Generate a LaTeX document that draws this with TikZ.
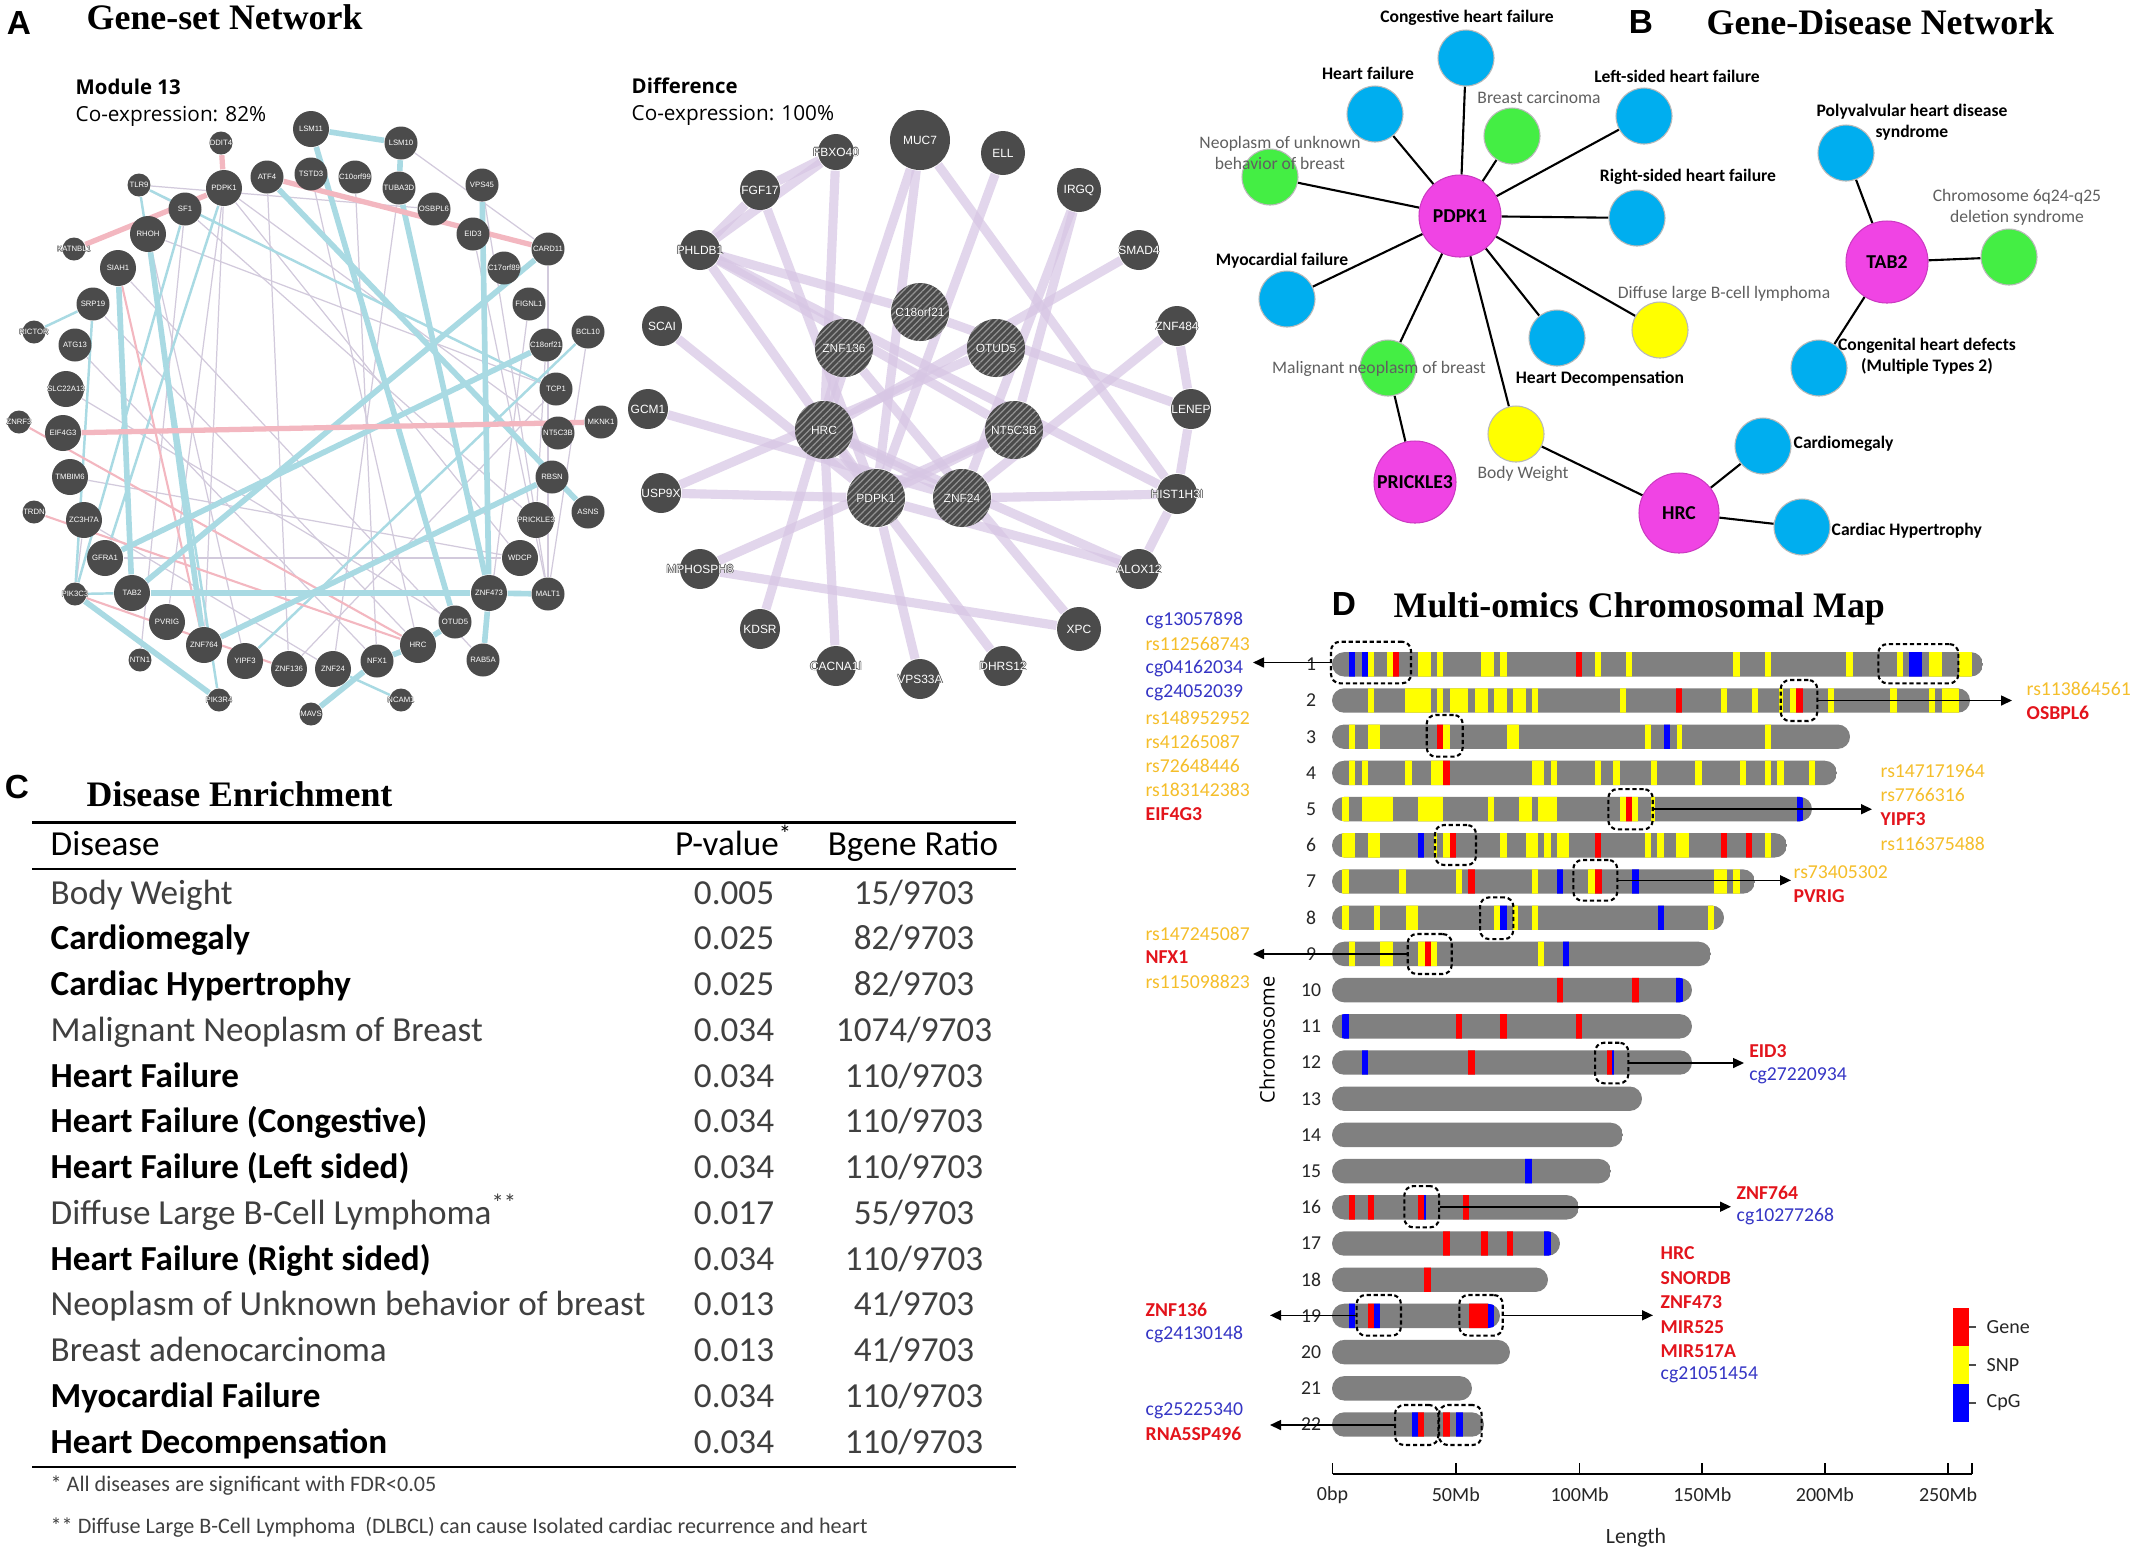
\documentclass[tikz,border=0pt]{standalone}
\usepackage{fontspec}
\setmainfont{Carlito}
\newfontfamily\labfont{Liberation Sans}
\newfontfamily\titlefont{Liberation Serif}
\newfontfamily\uifont{Open Sans}
\usetikzlibrary{positioning,arrows.meta,backgrounds,patterns.meta}

\definecolor{netgray}{HTML}{4B4B4B}
\definecolor{edgeblue}{HTML}{A9DAE3}
\definecolor{edgepink}{HTML}{F3B7C0}
\definecolor{edgethin}{HTML}{D2CADC}
\definecolor{edgepurple}{HTML}{D7C6E4}
\definecolor{genemag}{HTML}{F044E4}
\definecolor{disblue}{HTML}{00AEEF}
\definecolor{disgreen}{HTML}{44EE44}
\definecolor{disyellow}{HTML}{FFFF00}
\definecolor{labgray}{HTML}{606060}
\definecolor{tabgray}{HTML}{404040}
\definecolor{chrgray}{HTML}{808080}
\definecolor{bandY}{HTML}{FFFF00}
\definecolor{bandR}{HTML}{FF0000}
\definecolor{bandB}{HTML}{0000FF}
\definecolor{bandG}{HTML}{808080}
\definecolor{snptext}{HTML}{F5BE2A}
\definecolor{cpgtext}{HTML}{3535C5}
\definecolor{genered}{HTML}{E3141C}

% white gene label with a dark rim, so it stays readable outside its disc
\newcommand\halo[1]{\rlap{\color{netgray}\kern-0.055em#1}\rlap{\color{netgray}\kern0.055em#1}%
  \rlap{\color{netgray}\raise0.055em\hbox{#1}}\rlap{\color{netgray}\lower0.055em\hbox{#1}}#1}

\tikzset{
  panel/.style   = {inner sep=0pt, font=\labfont\bfseries\fontsize{9.5}{11}\selectfont},
  ptitle/.style  = {inner sep=0pt, anchor=base west, font=\titlefont\bfseries\fontsize{10.2}{12}\selectfont},
  uitext/.style  = {inner sep=0pt, anchor=west, font=\uifont\fontsize{5.9}{7}\selectfont},
  uibold/.style  = {uitext, font=\uifont\bfseries\fontsize{5.8}{7}\selectfont},
  zerowidth/.style = {execute at begin node={\hbox to 0pt\bgroup\hss},
                      execute at end node={\hss\egroup}},
  mnode/.style   = {circle, fill=netgray, text=white, inner sep=0pt, zerowidth,
                    font=\labfont\fontsize{2.2}{2.4}\selectfont},
  mbig/.style    = {mnode, minimum size=3.6mm},
  mmid/.style    = {mnode, minimum size=3.3mm},
  msml/.style    = {mnode, minimum size=2.3mm},
  eblue/.style   = {draw=edgeblue, line width=1.6pt},
  ebluet/.style  = {draw=edgeblue, line width=0.7pt},
  epink/.style   = {draw=edgepink, line width=1.5pt},
  epinkt/.style  = {draw=edgepink, line width=0.6pt},
  ethin/.style   = {draw=edgethin, line width=0.35pt},
  dnode/.style   = {circle, fill=netgray, text=white, inner sep=0pt, minimum size=4mm, zerowidth,
                    font=\labfont\fontsize{3.4}{4}\selectfont},
  dhub/.style    = {dnode, minimum size=5.8mm,
                    postaction={pattern={Lines[angle=45,distance=1.3pt,line width=0.35pt]},
                                pattern color=gray!85}},
  dedge/.style   = {draw=edgepurple, line width=2.6pt, opacity=0.7},
  gene/.style    = {circle, fill=genemag, draw=genemag!85!black, line width=0.3pt, inner sep=0pt,
                    minimum size=8.2mm, font=\bfseries\fontsize{5.6}{6}\selectfont},
  dis/.style     = {circle, draw=gray!55, line width=0.3pt, minimum size=5.6mm, inner sep=0pt},
  gedge/.style   = {draw=black, line width=0.6pt},
  dislab/.style  = {inner sep=0pt, align=center, font=\bfseries\fontsize{5}{6}\selectfont},
  dislabg/.style = {inner sep=0pt, align=center, text=labgray, font=\fontsize{5}{6}\selectfont},
  trow/.style    = {anchor=mid west, inner sep=0pt, font=\fontsize{10}{12}\selectfont},
  rowlight/.style= {trow, text=tabgray},
  rowbold/.style = {trow, font=\bfseries\fontsize{10}{12}\selectfont},
  tnum/.style    = {anchor=mid, inner sep=0pt, text=tabgray, font=\fontsize{10}{12}\selectfont},
  thead/.style   = {anchor=mid, inner sep=0pt, font=\fontsize{10}{12}\selectfont},
  tnote/.style   = {anchor=mid west, inner sep=0pt, text=tabgray, font=\fontsize{6.3}{7}\selectfont},
  chrnum/.style  = {inner sep=0pt, text=black!85, font=\fontsize{5.6}{6}\selectfont},
  dbox/.style    = {draw=black, line width=0.6pt, dash pattern=on 1.2pt off 0.8pt,
                    rounded corners=0.9mm, inner sep=0pt},
  omarrow/.style = {-{Triangle[length=1.1mm,width=1mm]}, line width=0.45pt},
  snplab/.style  = {anchor=west, inner sep=0pt, text=snptext, font=\fontsize{5.6}{6}\selectfont},
  cpglab/.style  = {anchor=west, inner sep=0pt, text=cpgtext, font=\fontsize{5.6}{6}\selectfont},
  genelab/.style = {anchor=west, inner sep=0pt, text=genered, font=\bfseries\fontsize{5.6}{6}\selectfont},
  axlab/.style   = {inner sep=0pt, text=black!85, font=\fontsize{5.7}{6}\selectfont}
}

\begin{document}
\begin{tikzpicture}[x=0.1mm, y=-0.1mm]
  \useasboundingbox (0,0) rectangle (2136,1556);
  \begin{scope}[on background layer]
    \fill[white] (0,0) rectangle (2136,1556);
  \end{scope}

  % ---------------- A: gene-set network
  \node[panel] (lettA) at (19,23) {A};
  \node[ptitle] (titleA) at (86,29.5) {Gene-set Network};
  \node[uibold] (modname) at (75,87) {Module 13};
  \node[uitext] (modco) at (75,116) {Co-expression: 82\%};
  \node[uibold] (difname) at (631,86) {Difference};
  \node[uitext] (difco) at (631,115) {Co-expression: 100\%};

  \node[mbig] (mLSM11) at (311,129) {\halo{LSM11}};
  \node[mmid] (mLSM10) at (401,143) {\halo{LSM10}};
  \node[msml] (mDDIT4) at (221,143) {\halo{DDIT4}};
  \node[msml] (mTLR9) at (139,185) {\halo{TLR9}};
  \node[mbig] (mPDPK1) at (224,188) {\halo{PDPK1}};
  \node[mmid] (mATF4) at (267,177) {\halo{ATF4}};
  \node[mmid] (mTSTD3) at (311,174) {\halo{TSTD3}};
  \node[mmid] (mC10orf99) at (355,177) {\halo{C10orf99}};
  \node[mmid] (mTUBA3D) at (399,188) {\halo{TUBA3D}};
  \node[mmid] (mVPS45) at (482,185) {\halo{VPS45}};
  \node[mmid] (mSF1) at (185,209) {\halo{SF1}};
  \node[mmid] (mOSBPL6) at (434,209) {\halo{OSBPL6}};
  \node[mbig] (mRHOH) at (148,234) {\halo{RHOH}};
  \node[mmid] (mEID3) at (473,234) {\halo{EID3}};
  \node[msml] (mKATNBL1) at (74,249) {\halo{KATNBL1}};
  \node[mmid] (mCARD11) at (548,249) {\halo{CARD11}};
  \node[mbig] (mSIAH1) at (118,268) {\halo{SIAH1}};
  \node[mmid] (mC17orf89) at (504,268) {\halo{C17orf89}};
  \node[mmid] (mSRP19) at (93,304) {\halo{SRP19}};
  \node[mmid] (mFIGNL1) at (529,304) {\halo{FIGNL1}};
  \node[msml] (mRICTOR) at (34,332) {\halo{RICTOR}};
  \node[mmid] (mBCL10) at (588,332) {\halo{BCL10}};
  \node[mmid] (mATG13) at (75,345) {\halo{ATG13}};
  \node[mmid] (mC18orf21) at (546,345) {\halo{C18orf21}};
  \node[mbig] (mSLC22A13) at (66,389) {\halo{SLC22A13}};
  \node[mmid] (mTCP1) at (556,389) {\halo{TCP1}};
  \node[msml] (mZNRF3) at (19,422) {\halo{ZNRF3}};
  \node[mbig] (mEIF4G3) at (63,433) {\halo{EIF4G3}};
  \node[mmid] (mMKNK1) at (601,422) {\halo{MKNK1}};
  \node[mmid] (mNT5C3B) at (558,433) {\halo{NT5C3B}};
  \node[mbig] (mTMBIM6) at (70,477) {\halo{TMBIM6}};
  \node[mmid] (mRBSN) at (552,477) {\halo{RBSN}};
  \node[msml] (mTRDN) at (34,512) {\halo{TRDN}};
  \node[mbig] (mZC3H7A) at (84,520) {\halo{ZC3H7A}};
  \node[mbig] (mPRICKLE3) at (536,520) {\halo{PRICKLE3}};
  \node[mmid] (mASNS) at (588,512) {\halo{ASNS}};
  \node[mbig] (mGFRA1) at (105,558) {\halo{GFRA1}};
  \node[mbig] (mWDCP) at (520,558) {\halo{WDCP}};
  \node[msml] (mPIK3C3) at (75,594) {\halo{PIK3C3}};
  \node[mbig] (mTAB2) at (132,593) {\halo{TAB2}};
  \node[mbig] (mZNF473) at (489,593) {\halo{ZNF473}};
  \node[mmid] (mMALT1) at (548,594) {\halo{MALT1}};
  \node[mbig] (mPVRIG) at (167,622) {\halo{PVRIG}};
  \node[mmid] (mOTUD5) at (455,622) {\halo{OTUD5}};
  \node[mbig] (mZNF764) at (204,645) {\halo{ZNF764}};
  \node[mbig] (mHRC) at (418,645) {\halo{HRC}};
  \node[msml] (mNTN1) at (140,660) {\halo{NTN1}};
  \node[mbig] (mYIPF3) at (245,661) {\halo{YIPF3}};
  \node[mbig] (mZNF136) at (289,669) {\halo{ZNF136}};
  \node[mbig] (mZNF24) at (333,669) {\halo{ZNF24}};
  \node[mmid] (mNFX1) at (377,661) {\halo{NFX1}};
  \node[mmid] (mRAB5A) at (483,660) {\halo{RAB5A}};
  \node[msml] (mPIK3R4) at (219,700) {\halo{PIK3R4}};
  \node[msml] (mNCAM1) at (401,700) {\halo{NCAM1}};
  \node[msml] (mMAVS) at (311,714) {\halo{MAVS}};

  \begin{scope}[on background layer]
    \path (mPDPK1) edge[ethin] (mWDCP)   (mPDPK1) edge[ethin] (mZNF764)
          (mTLR9) edge[ethin] (mOSBPL6)  (mATF4) edge[ethin] (mZNF136)
          (mRHOH) edge[ethin] (mTCP1)    (mSIAH1) edge[ethin] (mRAB5A)
          (mSF1) edge[ethin] (mPRICKLE3) (mC10orf99) edge[ethin] (mNFX1)
          (mEID3) edge[ethin] (mMALT1)   (mCARD11) edge[ethin] (mMALT1)
          (mBCL10) edge[ethin] (mMALT1)  (mFIGNL1) edge[ethin] (mRAB5A)
          (mTMBIM6) edge[ethin] (mWDCP)  (mZC3H7A) edge[ethin] (mZNF24)
          (mSLC22A13) edge[ethin] (mOTUD5) (mATG13) edge[ethin] (mNFX1)
          (mVPS45) edge[ethin] (mMALT1)  (mTSTD3) edge[ethin] (mHRC)
          (mPDPK1) edge[ethin] (mNT5C3B) (mRHOH) edge[ethin] (mYIPF3)
          (mGFRA1) edge[ethin] (mWDCP)   (mZC3H7A) edge[ethin] (mPIK3C3)
          (mC18orf21) edge[ethin] (mPRICKLE3) (mTUBA3D) edge[ethin] (mZNF24)
          (mSRP19) edge[ethin] (mHRC)    (mTCP1) edge[ethin] (mZNF136)
          (mLSM10) edge[ethin] (mCARD11) (mPDPK1) edge[ethin] (mPVRIG)
          (mTLR9) edge[ethin] (mSF1)     (mSF1) edge[ethin] (mNTN1);
    \path (mSRP19) edge[ebluet] (mRICTOR) (mTLR9) edge[ebluet] (mPIK3R4)
          (mPDPK1) edge[ebluet] (mGFRA1)  (mSRP19) edge[ebluet] (mPIK3C3)
          (mYIPF3) edge[ebluet] (mBCL10)  (mZNF24) edge[ebluet] (mNCAM1)
          (mSF1) edge[ebluet] (mPIK3C3)   (mPIK3C3) edge[ebluet] (mTAB2)
          (mTLR9) edge[ebluet] (mTCP1);
    \path (mZNRF3) edge[epinkt] (mHRC)   (mTRDN) edge[epinkt] (mHRC)
          (mPIK3C3) edge[epinkt] (mZNF136) (mSIAH1) edge[epinkt] (mZNF764);
    \path (mLSM11) edge[eblue] (mLSM10)  (mLSM10) edge[eblue] (mTUBA3D)
          (mTUBA3D) edge[eblue] (mZNF473) (mVPS45) edge[eblue] (mZNF473)
          (mZNF473) edge[eblue] (mRAB5A) (mATF4) edge[eblue] (mASNS)
          (mLSM11) edge[eblue] (mOTUD5)  (mSIAH1) edge[eblue] (mTAB2)
          (mRHOH) edge[eblue] (mZNF764)  (mTAB2) edge[eblue] (mZNF473)
          (mTAB2) edge[eblue] (mCARD11)  (mZNF764) edge[eblue] (mRBSN)
          (mGFRA1) edge[eblue] (mC18orf21) (mPIK3C3) edge[eblue] (mPIK3R4)
          (mNFX1) edge[eblue] (mHRC)     (mHRC) edge[eblue] (mOTUD5)
          (mMAVS) edge[eblue] (mNFX1)    (mZNF473) edge[eblue] (mMALT1);
    \path (mEIF4G3) edge[epink] (mMKNK1) (mATF4) edge[epink] (mCARD11)
          (mKATNBL1) edge[epink] (mPDPK1) (mDDIT4) edge[epink] (mPDPK1);
  \end{scope}

  % difference network
  \node[dnode, minimum size=6mm] (dMUC7) at (920,140) {\halo{MUC7}};
  \node[dnode, minimum size=3.6mm] (dFBXO40) at (836,152) {\halo{FBXO40}};
  \node[dnode, minimum size=4.4mm] (dELL) at (1003,153) {\halo{ELL}};
  \node[dnode] (dFGF17) at (760,190) {\halo{FGF17}};
  \node[dnode, minimum size=4.4mm] (dIRGQ) at (1079,190) {\halo{IRGQ}};
  \node[dnode] (dPHLDB1) at (700,250) {\halo{PHLDB1}};
  \node[dnode] (dSMAD4) at (1139,250) {\halo{SMAD4}};
  \node[dnode] (dSCAI) at (662,326) {\halo{SCAI}};
  \node[dnode] (dZNF484) at (1177,326) {\halo{ZNF484}};
  \node[dnode] (dGCM1) at (648,409) {\halo{GCM1}};
  \node[dnode] (dLENEP) at (1191,409) {\halo{LENEP}};
  \node[dnode] (dUSP9X) at (661,493) {\halo{USP9X}};
  \node[dnode] (dHIST1H3I) at (1177,494) {\halo{HIST1H3I}};
  \node[dnode] (dMPHOSPH8) at (700,569) {\halo{MPHOSPH8}};
  \node[dnode] (dALOX12) at (1139,569) {\halo{ALOX12}};
  \node[dnode] (dKDSR) at (760,629) {\halo{KDSR}};
  \node[dnode, minimum size=4.4mm] (dXPC) at (1079,629) {\halo{XPC}};
  \node[dnode] (dCACNA1I) at (836,666) {\halo{CACNA1I}};
  \node[dnode] (dDHRS12) at (1003,666) {\halo{DHRS12}};
  \node[dnode] (dVPS33A) at (920,679) {\halo{VPS33A}};
  \node[dhub] (dC18orf21) at (920,312) {\halo{C18orf21}};
  \node[dhub] (dZNF136) at (844,348) {\halo{ZNF136}};
  \node[dhub] (dOTUD5) at (996,348) {\halo{OTUD5}};
  \node[dhub] (dHRC) at (824,430) {\halo{HRC}};
  \node[dhub] (dNT5C3B) at (1014,430) {\halo{NT5C3B}};
  \node[dhub] (dPDPK1) at (876,498) {\halo{PDPK1}};
  \node[dhub] (dZNF24) at (962,498) {\halo{ZNF24}};

  \begin{scope}[on background layer]
    \path[dedge] (dFBXO40) edge (dFGF17) (dFBXO40) edge (dPHLDB1) (dFBXO40) edge (dHRC)
          (dFGF17) edge (dPHLDB1) (dFGF17) edge (dPDPK1) (dMUC7) edge (dHRC)
          (dMUC7) edge (dHIST1H3I) (dMUC7) edge (dPDPK1) (dELL) edge (dPDPK1)
          (dIRGQ) edge (dZNF24) (dIRGQ) edge (dNT5C3B) (dSMAD4) edge (dHRC)
          (dPHLDB1) edge (dC18orf21) (dPHLDB1) edge (dHIST1H3I) (dPHLDB1) edge (dNT5C3B)
          (dPHLDB1) edge (dPDPK1) (dSCAI) edge (dPDPK1) (dZNF484) edge (dLENEP)
          (dZNF484) edge (dZNF24) (dLENEP) edge (dHIST1H3I) (dLENEP) edge (dC18orf21)
          (dGCM1) edge (dZNF24) (dUSP9X) edge (dPDPK1) (dUSP9X) edge (dOTUD5)
          (dHIST1H3I) edge (dZNF24) (dHIST1H3I) edge (dALOX12) (dMPHOSPH8) edge (dXPC)
          (dMPHOSPH8) edge (dNT5C3B) (dALOX12) edge (dHRC) (dALOX12) edge (dPDPK1)
          (dKDSR) edge (dZNF136) (dXPC) edge (dZNF136) (dCACNA1I) edge (dHRC)
          (dDHRS12) edge (dHRC) (dVPS33A) edge (dPDPK1) (dHRC) edge (dZNF24)
          (dPDPK1) edge (dNT5C3B);
  \end{scope}

  % ---------------- B: gene-disease network
  \node[panel] (lettB) at (1641,22) {B};
  \node[ptitle] (titleB) at (1706,34) {Gene-Disease Network};

  \node[gene] (gPDPK1) at (1460,216) {PDPK1};
  \node[gene] (gPRICKLE3) at (1415,482) {PRICKLE3};
  \node[gene, minimum size=8mm] (gHRC) at (1679,513) {HRC};
  \node[gene] (gTAB2) at (1887,262) {TAB2};
  \node[dis, fill=disblue] (gCHF) at (1466,58) {};
  \node[dis, fill=disblue] (gHF) at (1375,114) {};
  \node[dis, fill=disgreen] (gBC) at (1512,136) {};
  \node[dis, fill=disblue] (gLHF) at (1644,116) {};
  \node[dis, fill=disgreen] (gNUB) at (1270,177) {};
  \node[dis, fill=disblue] (gRHF) at (1637,218) {};
  \node[dis, fill=disblue] (gMF) at (1287,299) {};
  \node[dis, fill=disyellow] (gDLB) at (1660,330) {};
  \node[dis, fill=disblue] (gHD) at (1557,338) {};
  \node[dis, fill=disgreen] (gMNB) at (1388,368) {};
  \node[dis, fill=disyellow] (gBW) at (1516,434) {};
  \node[dis, fill=disblue] (gCM) at (1763,446) {};
  \node[dis, fill=disblue] (gCH) at (1802,527) {};
  \node[dis, fill=disblue] (gPHD) at (1846,153) {};
  \node[dis, fill=disgreen] (gCHR) at (2009,257) {};
  \node[dis, fill=disblue] (gCHD) at (1819,368) {};

  \begin{scope}[on background layer]
    \path[gedge] (gPDPK1) edge (gCHF) (gPDPK1) edge (gHF) (gPDPK1) edge (gBC)
          (gPDPK1) edge (gLHF) (gPDPK1) edge (gNUB) (gPDPK1) edge (gRHF)
          (gPDPK1) edge (gMF) (gPDPK1) edge (gDLB) (gPDPK1) edge (gHD)
          (gPDPK1) edge (gMNB) (gPDPK1) edge (gBW) (gMNB) edge (gPRICKLE3)
          (gBW) edge (gHRC) (gHRC) edge (gCM) (gHRC) edge (gCH)
          (gTAB2) edge (gPHD) (gTAB2) edge (gCHR) (gTAB2) edge (gCHD);
  \end{scope}

  \node[dislab] (tCHF) at (1467,18) {Congestive heart failure};
  \node[dislab] (tHF) at (1368,73) {Heart failure};
  \node[dislabg] (tBC) at (1539,98) {Breast carcinoma};
  \node[dislab] (tLHF) at (1677,76) {Left-sided heart failure};
  \node[dislabg] (tNUB) at (1280,153) {Neoplasm of unknown\\behavior of breast};
  \node[dislab] (tRHF) at (1688,177) {Right-sided heart failure};
  \node[dislab] (tMF) at (1282,261) {Myocardial failure};
  \node[dislabg] (tDLB) at (1724,294) {Diffuse large B-cell lymphoma};
  \node[dislab] (tHD) at (1600,379) {Heart Decompensation};
  \node[dislabg] (tMNB) at (1379,369) {Malignant neoplasm of breast};
  \node[dislabg] (tBW) at (1523,474) {Body Weight};
  \node[dislab, anchor=west] (tCM) at (1793,444) {Cardiomegaly};
  \node[dislab, anchor=west] (tCH) at (1831,531) {Cardiac Hypertrophy};
  \node[dislab] (tPHD) at (1912,122) {Polyvalvular heart disease\\syndrome};
  \node[dislabg] (tCHR) at (2017,207) {Chromosome 6q24-q25\\deletion syndrome};
  \node[dislab] (tCHD) at (1927,356) {Congenital heart defects\\(Multiple Types 2)};

  % ---------------- C: disease enrichment table
  \node[panel] (lettC) at (17,787) {C};
  \node[ptitle] (titleC) at (86,806.7) {Disease Enrichment};
  \draw[line width=0.7pt] (32,822.5) -- (1016,822.5);
  \node[trow] (hdis) at (50,847) {Disease};
  \node[thead] (hpv) at (734,847) {P-value\textsuperscript{*}};
  \node[thead] (hrat) at (913,847) {Bgene Ratio};
  \draw[line width=0.6pt] (32,869) -- (1016,869);
  \foreach \nm/\pv/\rn/\st [count=\i] in {
      Body Weight/0.005/15/rowlight,
      Cardiomegaly/0.025/82/rowbold,
      Cardiac Hypertrophy/0.025/82/rowbold,
      Malignant Neoplasm of Breast/0.034/1074/rowlight,
      Heart Failure/0.034/110/rowbold,
      Heart Failure (Congestive)/0.034/110/rowbold,
      Heart Failure (Left sided)/0.034/110/rowbold,
      Diffuse Large B-Cell Lymphoma\textsuperscript{**}/0.017/55/rowlight,
      Heart Failure (Right sided)/0.034/110/rowbold,
      Neoplasm of Unknown behavior of breast/0.013/41/rowlight,
      Breast adenocarcinoma/0.013/41/rowlight,
      Myocardial Failure/0.034/110/rowbold,
      Heart Decompensation/0.034/110/rowbold}{
    \node[\st] (row\i) at (50,895.8+45.75*\i-45.75) {\nm};
    \node[tnum] (pv\i) at (734,895.8+45.75*\i-45.75) {\pv};
    \node[tnum] (ratio\i) at (914,895.8+45.75*\i-45.75) {\rn/9703};
  }
  \draw[line width=0.7pt] (32,1467) -- (1016,1467);
  \node[tnote] (note1) at (50,1483) {* All diseases are significant with FDR<0.05};
  \node[tnote] (note2) at (50,1525) {** Diffuse Large B-Cell Lymphoma\ \ (DLBCL) can cause Isolated cardiac recurrence and heart};

  % ---------------- D: chromosomal map
  \node[panel] (lettD) at (1344,604) {D};
  \node[ptitle] (titleD) at (1393,617.5) {Multi-omics Chromosomal Map};

  \foreach \c/\e/\bl in {
    1/1983/{1349/1355/B,1361.7/1367.7/B,1368/1374/Y,1387/1393.3/Y,1393.3/1399/R,1418.3/1430.7/Y,1437.3/1443.3/Y,1481/1494/Y,1500.3/1506.7/Y,1575.7/1582.3/R,1595/1601.3/Y,1626/1632.3/Y,1733.3/1740/Y,1764.7/1771/Y,1846/1852.7/Y,1896.7/1902.7/Y,1909.3/1922.3/B,1929/1941.7/Y,1959/1972.3/Y},
    2/1970/{1367.7/1374/Y,1405/1430.7/Y,1437.3/1443.3/Y,1450/1468.3/Y,1475/1487.7/Y,1494/1506.7/Y,1513.3/1526/Y,1532.3/1538.3/Y,1619.7/1626/Y,1676/1682.3/R,1720.7/1727/Y,1752/1758.3/Y,1779.3/1783.3/Y,1790/1796/Y,1796/1802.7/R,1827.7/1834/Y,1890/1896.7/Y,1928.7/1935/Y,1941.7/1959.3/Y},
    3/1850/{1349/1355/Y,1367.7/1380.3/Y,1437.3/1443.3/R,1443.3/1450/Y,1506.7/1519.3/Y,1645/1651/Y,1663.7/1670.3/B,1676.7/1682.3/Y,1764.7/1771/Y},
    4/1837/{1349/1355/Y,1361.7/1367.7/Y,1405/1411.7/Y,1430.7/1443.3/Y,1443.3/1450/R,1532.3/1544/Y,1550.7/1556.7/Y,1595/1601.3/Y,1613.3/1619.7/Y,1651/1657.3/Y,1695/1701.7/Y,1740/1746/Y,1764.7/1771/Y,1777.3/1784/Y,1809/1815.3/Y},
    5/1812/{1342.3/1349/Y,1361.7/1393.3/Y,1418.3/1443.3/Y,1487.7/1494/Y,1519.3/1531.7/Y,1538.3/1556.7/Y,1619.7/1626/Y,1626/1632.3/R,1632.3/1638.3/Y,1651/1655/Y,1796.7/1802.7/B},
    6/1787/{1342.3/1355/Y,1367.7/1380.3/Y,1417.7/1424/B,1434/1437.3/Y,1443.3/1450/Y,1450/1456/R,1500.3/1506.7/Y,1525.7/1538.3/Y,1544/1550.7/Y,1556.7/1569.3/Y,1595/1601.3/R,1645/1651/Y,1657.3/1663.7/Y,1676/1688.7/Y,1720.7/1727/R,1746/1752/R,1764.7/1771/Y},
    7/1755/{1342.3/1349/Y,1399/1405.7/Y,1456/1462.3/Y,1468.3/1475/R,1531.7/1538.3/Y,1556.7/1563.3/B,1588.3/1595/Y,1595/1601.7/R,1632.3/1639/B,1714.3/1727/Y,1733.3/1740/Y},
    8/1724/{1342.3/1349/Y,1374.3/1380.3/Y,1405.7/1418.3/Y,1494/1500.3/Y,1500.3/1506.7/B,1513.3/1518.3/Y,1532.3/1538.3/Y,1657.7/1664.3/B,1708.3/1714.3/Y},
    9/1711/{1349/1355/Y,1380.3/1393.3/Y,1418.3/1425/Y,1425/1431/R,1431/1437.3/Y,1538.3/1544/Y,1563.3/1569.3/B},
    10/1692/{1556.7/1563.3/R,1632.3/1639/R,1676.3/1683/B},
    11/1692/{1342.3/1349/B,1456/1462.3/R,1500/1506.7/R,1575.7/1582.3/R},
    12/1692/{1361.7/1368.3/B,1468.3/1475/R,1606.7/1612.3/R,1612.3/1614.3/B},
    13/1642/{1340/1341/G},
    14/1623/{1340/1341/G},
    15/1611/{1525/1531.7/B},
    16/1579/{1349/1355/R,1368.3/1374.3/R,1418.3/1424/R,1424/1425.5/B,1462.7/1469/R},
    17/1560/{1443.3/1450/R,1481/1487.7/R,1506.7/1512.7/R,1544/1550.7/B},
    18/1548/{1424/1430.7/R},
    19/1500/{1349/1355/B,1368.3/1374.3/R,1374.3/1380.3/B,1469.3/1487.7/R,1487.7/1494/B},
    20/1510/{1340/1341/G},
    21/1472/{1340/1341/G},
    22/1484/{1411.7/1417.7/B,1417.7/1424/R,1443.3/1450/R,1456/1462.7/B}}{
    \pgfmathsetmacro\yc{664.3+36.2*(\c-1)}
    \begin{scope}
      \clip[rounded corners=1.22mm] (1332,\yc-12.2) rectangle (\e,\yc+12.2);
      \fill[chrgray] (1332,\yc-13) rectangle (\e,\yc+13);
      \foreach \a/\b/\k in \bl {\fill[band\k] (\a,\yc-13) rectangle (\b,\yc+13);}
    \end{scope}
    \node[chrnum] (cn\c) at (1311,\yc) {\c};
  }

  \foreach \n/\cx/\cy/\w/\h in {b1a/1371/662.5/80/41.6, b1b/1918.3/663.7/80/39.3,
      b2/1799/700.5/36.6/41, b3/1444.7/735.8/36/41.7, b5/1630.5/809.2/44.4/40.3,
      b6/1455.5/845/41/40, b7/1595.3/880.3/44/40.7, b8/1496.7/918.2/33.3/41.7,
      b9/1429.7/954/44/40, b12/1611.7/1063/33.3/40.6, b16/1421.7/1206.7/34.7/41.3,
      b19a/1378.8/1315.3/44.3/40.7, b19b/1481/1315.3/43.4/40.7,
      b22a/1416.7/1425/43.3/40, b22b/1460.3/1425/42.7/40}
    \node[dbox, minimum width=\w*0.1mm, minimum height=\h*0.1mm] (\n) at (\cx,\cy) {};

  \coordinate (tip1) at (1253,662.5);
  \coordinate (tip2) at (2012,700.5);
  \coordinate (tip5) at (1872,809.2);
  \coordinate (tip7) at (1791,880.3);
  \coordinate (tip9) at (1253,954);
  \coordinate (tip12) at (1744,1063);
  \coordinate (tip16) at (1731,1206.7);
  \coordinate (tip19l) at (1270,1315.3);
  \coordinate (tip19r) at (1653,1315.3);
  \coordinate (tip22) at (1270,1425);
  \draw[omarrow] (b1a.west) -- (tip1);
  \draw[omarrow] (b2.east) -- (tip2);
  \draw[omarrow] (b5.east) -- (tip5);
  \draw[omarrow] (b7.east) -- (tip7);
  \draw[omarrow] (b9.west) -- (tip9);
  \draw[omarrow] (b12.east) -- (tip12);
  \draw[omarrow] (b16.east) -- (tip16);
  \draw[omarrow] (b19a.west) -- (tip19l);
  \draw[omarrow] (b19b.east) -- (tip19r);
  \draw[omarrow] (b22a.west) -- (tip22);

  \foreach \x/\y/\t/\s [count=\i] in {
      1145/620/cg13057898/cpglab, 1145/644.3/rs112568743/snplab, 1145/668.6/cg04162034/cpglab,
      1145/692.9/cg24052039/cpglab, 1145/717.5/rs148952952/snplab, 1145/741.8/rs41265087/snplab,
      1145/765.7/rs72648446/snplab, 1145/790/rs183142383/snplab, 1145/814.3/EIF4G3/genelab,
      2026/689/rs113864561/snplab, 2026/713/OSBPL6/genelab,
      1880/771/rs147171964/snplab, 1880/795/rs7766316/snplab, 1880/819/YIPF3/genelab,
      1880/843.6/rs116375488/snplab,
      1793/872/rs73405302/snplab, 1793/896/PVRIG/genelab,
      1145/933.6/rs147245087/snplab, 1145/957.5/NFX1/genelab, 1145/981.8/rs115098823/snplab,
      1748.6/1050.7/EID3/genelab, 1748.6/1075.4/cg27220934/cpglab,
      1736/1192.7/ZNF764/genelab, 1736/1216.7/cg10277268/cpglab,
      1145/1310/ZNF136/genelab, 1145/1334/cg24130148/cpglab,
      1660/1253/HRC/genelab, 1660/1277.7/SNORDB/genelab, 1660/1302/ZNF473/genelab,
      1660/1326.7/MIR525/genelab, 1660/1351/MIR517A/genelab, 1660/1375/cg21051454/cpglab,
      1145/1411/cg25225340/cpglab, 1145/1434/RNA5SP496/genelab}
    \node[\s] (olab\i) at (\x,\y) {\t};

  \node[rotate=90, inner sep=0pt, font=\uifont\fontsize{5.7}{6}\selectfont] (chrlab) at (1267,1040) {Chromosome};

  % axis
  \draw[line width=0.5pt] (1332.5,1474) -- (1972,1474);
  \draw[line width=0.5pt] (1972,1474) -- (1972,1463);
  \foreach \t/\lab in {1332.5/0bp,1455.8/50Mb,1579.6/100Mb,1702.3/150Mb,1824.9/200Mb,1948.1/250Mb}{
    \draw[line width=0.5pt] (\t,1474) -- (\t,1463);
    \node[axlab] at (\t,1495) {\lab};
  }
  \coordinate (axmid) at (1636,1474);
  \node[inner sep=0pt, text=black!85, font=\fontsize{6.2}{7}\selectfont, below=5.4mm of axmid] (lenlab) {Length};

  % legend
  \fill[bandR] (1953,1307.7) rectangle (1969,1346);
  \fill[bandY] (1953,1346) rectangle (1969,1384.3);
  \fill[bandB] (1953,1384.3) rectangle (1969,1421.7);
  \foreach \ly/\lt in {1327/Gene,1365/SNP,1403/CpG}{
    \draw[line width=0.5pt, black!70] (1969,\ly) -- (1976,\ly);
    \node[axlab, anchor=west] at (1986,\ly) {\lt};
  }
\end{tikzpicture}
\end{document}
